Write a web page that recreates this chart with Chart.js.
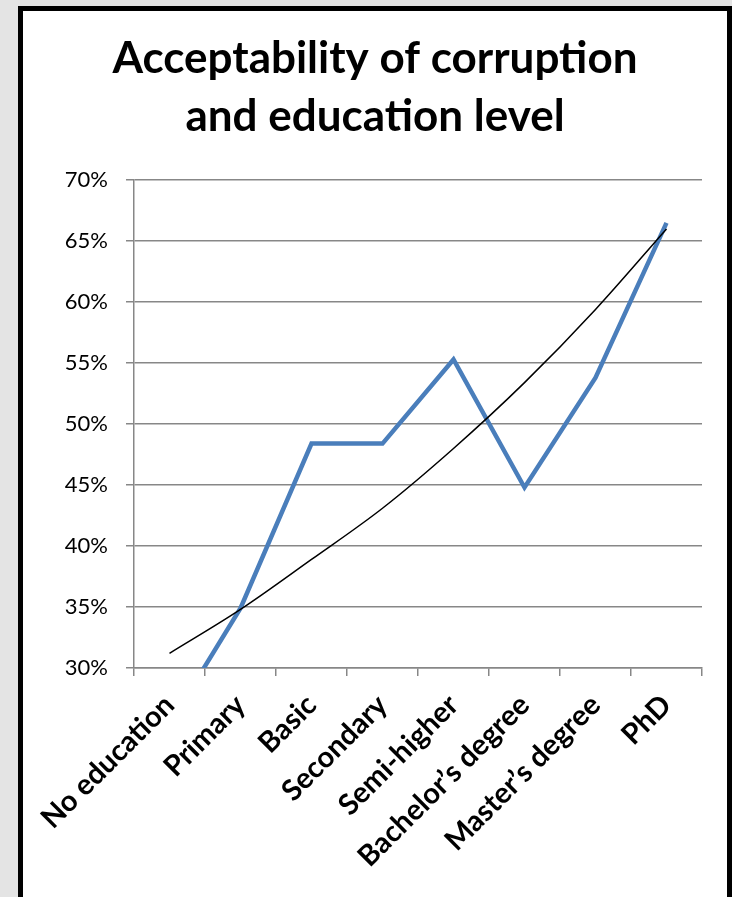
<!DOCTYPE html>
<html>
<head>
<meta charset="utf-8">
<script src="https://cdn.jsdelivr.net/npm/chart.js@4"></script>
<style>
  html, body { margin: 0; padding: 0; background: #e4e4e4; }
  body { width: 732px; height: 897px; position: relative; overflow: hidden; }
  #box {
    position: absolute; left: 18px; top: 6px; width: 704px; height: 900px;
    background: #fff; border: 5px solid #000;
  }
  #wrap { position: absolute; left: 18px; top: 0; width: 714px; height: 897px; }
</style>
</head>
<body>
<div id="box"></div>
<div id="wrap"><canvas id="chart-1"></canvas></div>
<script>
const levels = ['No education', 'Primary', 'Basic', 'Secondary', 'Semi-higher', 'Bachelor’s degree', 'Master’s degree', 'PhD'];
const acceptability = [25.4, 34.9, 48.4, 48.4, 55.3, 44.8, 53.8, 66.5];
const trend = [31.2, 34.8, 38.9, 43.1, 48.0, 53.4, 59.4, 66.0];
const yTicks = [30, 35, 40, 45, 50, 55, 60, 65, 70];

const gridGray = '#878787';

const ctx1 = document.getElementById("chart-1").getContext("2d");

const myChart = new Chart(ctx1, {
  type: 'line',
  data: {
    labels: levels,
    datasets: [{
      label: 'Acceptability',
      data: acceptability,
      borderColor: '#4a7ebb',
      borderWidth: 4.5,
      pointRadius: 0,
      tension: 0,
      clip: 0,
      order: 1
    }, {
      label: 'Trend',
      data: trend,
      borderColor: '#000',
      borderWidth: 1.5,
      pointRadius: 0,
      cubicInterpolationMode: 'monotone',
      order: 0
    }]
  },
  options: {
    responsive: true,
    maintainAspectRatio: false,
    animation: false,
    layout: { padding: { left: 12, right: 12, top: 0, bottom: 0 } },
    plugins: {
      legend: { display: false },
      tooltip: { enabled: false },
      title: {
        display: true,
        text: ['Acceptability of corruption', 'and education level'],
        color: '#000',
        font: { family: 'Lato', size: 44, weight: 'bold', lineHeight: 1.32 },
        padding: { top: 30, bottom: 34 }
      }
    },
    scales: {
      x: {
        offset: true,
        grid: { offset: true, drawOnChartArea: false, drawTicks: true, tickLength: 8, color: gridGray, lineWidth: 1.5 },
        border: { color: gridGray, width: 1.5 },
        ticks: {
          minRotation: 45, maxRotation: 45, autoSkip: false, padding: 12,
          color: '#000', font: { family: 'Lato', size: 29, weight: 'bold' }
        },
        afterFit: (scale) => { scale.height = 229; }
      },
      y: {
        min: 30, max: 70,
        afterBuildTicks: (scale) => { scale.ticks = yTicks.map(v => ({ value: v })); },
        grid: { color: gridGray, lineWidth: 1.5, tickLength: 8 },
        border: { color: gridGray, width: 1.5 },
        ticks: {
          padding: 18, color: '#000',
          font: { family: 'Lato', size: 22 },
          callback: (v) => v + '%'
        },
        afterFit: (scale) => { scale.width = 104; }
      },
      // empty right-hand gutter so the plot ends where the reference does
      gutter: {
        position: 'right',
        display: true,
        grid: { display: false },
        border: { display: false },
        ticks: { display: false },
        afterFit: (scale) => { scale.width = 18; }
      }
    }
  }
});
</script>
</body>
</html>
